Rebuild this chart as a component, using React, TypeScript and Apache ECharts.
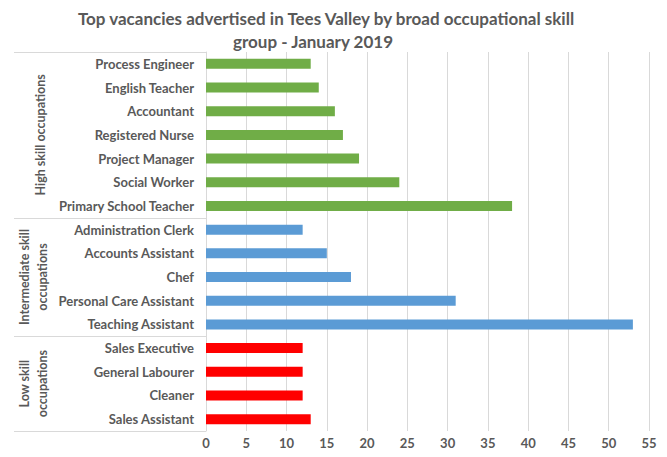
import React, { useEffect, useRef } from "react";
import * as echarts from "echarts";

const highSkillJobs = ["Process Engineer", "English Teacher", "Accountant", "Registered Nurse", "Project Manager", "Social Worker", "Primary School Teacher"];
const highSkillValues = [13, 14, 16, 17, 19, 24, 38];
const intermediateJobs = ["Administration Clerk", "Accounts Assistant", "Chef", "Personal Care Assistant", "Teaching Assistant"];
const intermediateValues = [12, 15, 18, 31, 53];
const lowSkillJobs = ["Sales Executive", "General Labourer", "Cleaner", "Sales Assistant"];
const lowSkillValues = [12, 12, 12, 13];
const groupLabels = ["High skill occupations", "Intermediate skill\noccupations", "Low skill\noccupations"];
const groupColors = ["#70AD47", "#5B9BD5", "#FF0000"];
const xTicks = [0, 5, 10, 15, 20, 25, 30, 35, 40, 45, 50, 55];

const TITLE_LINES = ["Top vacancies advertised in Tees Valley by broad occupational skill", "group - January 2019"];

export default function App() {
  const ref = useRef<HTMLDivElement>(null);
  useEffect(() => {
    if (!ref.current) return;
    const chart = echarts.init(ref.current, null, { renderer: "svg" });
    const groups = [
      { jobs: highSkillJobs, values: highSkillValues },
      { jobs: intermediateJobs, values: intermediateValues },
      { jobs: lowSkillJobs, values: lowSkillValues },
    ];
    const categories: string[] = [];
    const data: any[] = [];
    groups.forEach((g, gi) => {
      g.jobs.forEach((j, i) => {
        categories.push(j);
        data.push({ value: g.values[i], itemStyle: { color: groupColors[gi] } });
      });
    });
    const H = 457;
    const gridLeft = 206, gridTop = 52, gridRight = 18, gridBottom = 26;
    const plotH = H - gridTop - gridBottom;
    const band = plotH / categories.length;
    const font = "Lato, 'Liberation Sans', sans-serif";
    const textColor = "#595959";
    const lineColor = "#D9D9D9";
    const graphics: any[] = [];
    let start = 0;
    const yLines = [gridTop];
    groups.forEach((g, gi) => {
      const y0 = gridTop + start * band;
      const y1 = gridTop + (start + g.jobs.length) * band;
      yLines.push(y1);
      const lines = groupLabels[gi].split("\n").length;
      graphics.push({
        type: "text",
        x: lines === 1 ? 40 : 33,
        y: (y0 + y1) / 2,
        rotation: Math.PI / 2,
        style: {
          text: groupLabels[gi],
          font: `bold 12.5px ${font}`,
          fill: textColor,
          align: "center",
          verticalAlign: "middle",
          lineHeight: 18,
        },
      });
      start += g.jobs.length;
    });
    yLines.forEach((y) => {
      graphics.push({
        type: "line",
        shape: { x1: 14, y1: Math.round(y) + 0.5, x2: gridLeft, y2: Math.round(y) + 0.5 },
        style: { stroke: lineColor, lineWidth: 1 },
      });
    });
    const titleX = [326, 313];
    const titleY = [18, 41];
    TITLE_LINES.forEach((t, i) => {
      graphics.push({
        type: "text",
        x: titleX[i],
        y: titleY[i],
        style: {
          text: t,
          font: `bold 17px ${font}`,
          fill: textColor,
          align: "center",
          verticalAlign: "middle",
        },
      });
    });
    chart.setOption({
      animation: false,
      backgroundColor: "#fff",
      grid: { left: gridLeft, top: gridTop, right: gridRight, bottom: gridBottom, containLabel: false },
      xAxis: {
        type: "value",
        min: 0,
        max: 55,
        interval: 5,
        axisLine: { show: false },
        axisTick: { show: false },
        splitLine: { show: true, lineStyle: { color: lineColor, width: 1 } },
        axisLabel: {
          color: textColor,
          fontFamily: font,
          fontWeight: "bold",
          fontSize: 13,
          margin: 5,
          formatter: (v: number) => (xTicks.includes(v) ? String(v) : ""),
        },
      },
      yAxis: {
        type: "category",
        inverse: true,
        data: categories,
        axisLine: { show: true, lineStyle: { color: lineColor } },
        axisTick: { show: false },
        axisLabel: {
          color: textColor,
          fontFamily: font,
          fontWeight: "bold",
          fontSize: 13,
          margin: 12,
        },
      },
      series: [
        {
          type: "bar",
          data,
          barWidth: 10,
        },
      ],
      graphic: graphics,
    });
    return () => chart.dispose();
  }, []);
  return <div ref={ref} style={{ width: 667, height: 457, position: "absolute", left: 0, top: 0 }} />;
}
